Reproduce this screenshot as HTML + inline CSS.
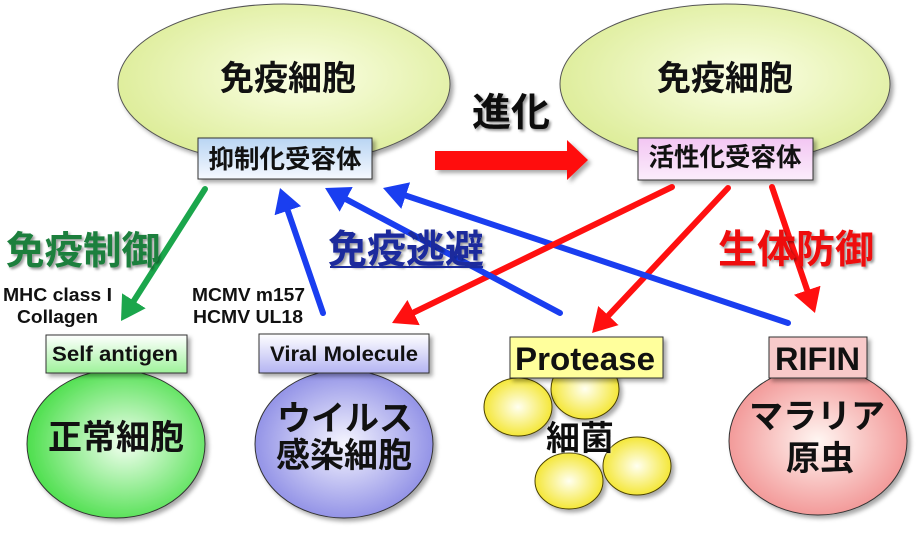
<!DOCTYPE html>
<html>
<head>
<meta charset="utf-8">
<style>
html,body{margin:0;padding:0;background:#fff;}
svg{display:block;}
text{font-family:"Liberation Sans","Noto Sans CJK JP",sans-serif;font-weight:bold;}
</style>
</head>
<body>
<svg width="921" height="534" viewBox="0 0 921 534" xmlns="http://www.w3.org/2000/svg">
<defs>
  <radialGradient id="gTop" cx="0.55" cy="0.45" r="0.6">
    <stop offset="0" stop-color="#fbffe6"/>
    <stop offset="1" stop-color="#dcec96"/>
  </radialGradient>
  <radialGradient id="gGreen" cx="0.55" cy="0.5" r="0.6">
    <stop offset="0" stop-color="#f2fff0"/>
    <stop offset="1" stop-color="#3edc3e"/>
  </radialGradient>
  <radialGradient id="gBlue" cx="0.5" cy="0.5" r="0.6">
    <stop offset="0" stop-color="#f6f6ff"/>
    <stop offset="1" stop-color="#8080e2"/>
  </radialGradient>
  <radialGradient id="gPink" cx="0.5" cy="0.5" r="0.6">
    <stop offset="0" stop-color="#fff6f2"/>
    <stop offset="1" stop-color="#f08888"/>
  </radialGradient>
  <radialGradient id="gYel" cx="0.5" cy="0.5" r="0.6">
    <stop offset="0" stop-color="#fffff0"/>
    <stop offset="1" stop-color="#f2e214"/>
  </radialGradient>
  <linearGradient id="bBlue" x1="0" y1="0" x2="0" y2="1">
    <stop offset="0" stop-color="#b9d5f3"/>
    <stop offset="1" stop-color="#f6f9ff"/>
  </linearGradient>
  <linearGradient id="bPink" x1="0" y1="0" x2="0" y2="1">
    <stop offset="0" stop-color="#f3c6f3"/>
    <stop offset="1" stop-color="#fbedfb"/>
  </linearGradient>
  <linearGradient id="bGreen" x1="0" y1="0" x2="0" y2="1">
    <stop offset="0" stop-color="#ffffff"/>
    <stop offset="1" stop-color="#9ef29a"/>
  </linearGradient>
  <linearGradient id="bLav" x1="0" y1="0" x2="0" y2="1">
    <stop offset="0" stop-color="#ffffff"/>
    <stop offset="1" stop-color="#b4b4f2"/>
  </linearGradient>
  <filter id="sh" x="-10%" y="-10%" width="130%" height="130%">
    <feDropShadow dx="3" dy="3" stdDeviation="2" flood-color="#000" flood-opacity="0.35"/>
  </filter>
  <filter id="tsh" x="-10%" y="-10%" width="130%" height="140%">
    <feDropShadow dx="2" dy="2" stdDeviation="1.2" flood-color="#000" flood-opacity="0.4"/>
  </filter>
  <filter id="glow" x="-10%" y="-10%" width="130%" height="140%">
    <feDropShadow dx="0" dy="0" stdDeviation="1.5" flood-color="#fff" flood-opacity="0.9"/>
  </filter>
  <marker id="mR" markerUnits="userSpaceOnUse" viewBox="0 0 24 28" markerWidth="24" markerHeight="28" refX="16" refY="14" orient="auto">
    <path d="M0,0 L24,14 L0,28 Z" fill="#ff1010"/>
  </marker>
  <marker id="mB" markerUnits="userSpaceOnUse" viewBox="0 0 24 28" markerWidth="24" markerHeight="28" refX="16" refY="14" orient="auto">
    <path d="M0,0 L24,14 L0,28 Z" fill="#1a3ef0"/>
  </marker>
  <marker id="mG" markerUnits="userSpaceOnUse" viewBox="0 0 24 28" markerWidth="24" markerHeight="28" refX="16" refY="14" orient="auto">
    <path d="M0,0 L24,14 L0,28 Z" fill="#1ba64c"/>
  </marker>
</defs>

<!-- top ellipses -->
<ellipse cx="284" cy="84" rx="166" ry="80" fill="url(#gTop)" stroke="#555" stroke-width="1" filter="url(#sh)"/>
<ellipse cx="725" cy="84" rx="165" ry="80" fill="url(#gTop)" stroke="#555" stroke-width="1" filter="url(#sh)"/>
<text x="288" y="90" font-size="34" text-anchor="middle" fill="#111">免疫細胞</text>
<text x="725" y="90" font-size="34" text-anchor="middle" fill="#111">免疫細胞</text>

<!-- receptor boxes -->
<rect x="198" y="138" width="174" height="41" fill="url(#bBlue)" stroke="#333" stroke-width="1" filter="url(#sh)"/>
<text x="285" y="168" font-size="25.5" text-anchor="middle" fill="#111">抑制化受容体</text>
<rect x="638" y="138" width="175" height="42" fill="url(#bPink)" stroke="#333" stroke-width="1" filter="url(#sh)"/>
<text x="725" y="166" font-size="25.5" text-anchor="middle" fill="#111">活性化受容体</text>

<!-- big red arrow -->
<polygon points="435,151 567,151 567,140 588,160 567,180 567,170 435,170" fill="#ff1010" filter="url(#sh)"/>
<text x="511" y="126" font-size="39" text-anchor="middle" fill="#111" filter="url(#tsh)">進化</text>

<!-- bottom shapes -->
<ellipse cx="116" cy="444" rx="89" ry="74" fill="url(#gGreen)" stroke="#333" stroke-width="1" filter="url(#sh)"/>
<ellipse cx="344" cy="444" rx="89" ry="74" fill="url(#gBlue)" stroke="#333" stroke-width="1" filter="url(#sh)"/>
<ellipse cx="818" cy="441" rx="89" ry="74" fill="url(#gPink)" stroke="#333" stroke-width="1" filter="url(#sh)"/>

<ellipse cx="585" cy="389" rx="34" ry="30" fill="url(#gYel)" stroke="#4a4000" stroke-width="1" filter="url(#sh)"/>
<ellipse cx="518" cy="407" rx="34" ry="29" fill="url(#gYel)" stroke="#4a4000" stroke-width="1" filter="url(#sh)"/>
<ellipse cx="569" cy="481" rx="34" ry="28" fill="url(#gYel)" stroke="#4a4000" stroke-width="1" filter="url(#sh)"/>
<ellipse cx="637" cy="466" rx="34" ry="29" fill="url(#gYel)" stroke="#4a4000" stroke-width="1" filter="url(#sh)"/>

<!-- bottom boxes -->
<rect x="46" y="335" width="141" height="38" fill="url(#bGreen)" stroke="#333" stroke-width="1" filter="url(#sh)"/>
<text x="52" y="361" font-size="21" textLength="126" lengthAdjust="spacingAndGlyphs" fill="#111">Self antigen</text>
<rect x="259" y="334" width="170" height="39" fill="url(#bLav)" stroke="#333" stroke-width="1" filter="url(#sh)"/>
<text x="270" y="361" font-size="21" textLength="148" lengthAdjust="spacingAndGlyphs" fill="#111">Viral Molecule</text>
<rect x="510" y="337" width="153" height="41" fill="#ffff9c" stroke="#333" stroke-width="1" filter="url(#sh)"/>
<text x="515" y="370" font-size="32" textLength="140" lengthAdjust="spacingAndGlyphs" fill="#111">Protease</text>
<rect x="769" y="337" width="98" height="41" fill="#f8caca" stroke="#333" stroke-width="1" filter="url(#sh)"/>
<text x="775" y="370" font-size="32" textLength="85" lengthAdjust="spacingAndGlyphs" fill="#111">RIFIN</text>

<!-- circle texts -->
<text x="116" y="449" font-size="34" text-anchor="middle" fill="#111">正常細胞</text>
<text x="345" y="430" font-size="34" text-anchor="middle" fill="#111">ウイルス</text>
<text x="344" y="467" font-size="34" text-anchor="middle" fill="#111">感染細胞</text>
<text x="817" y="428" font-size="34" text-anchor="middle" fill="#111">マラリア</text>
<text x="820" y="470" font-size="34" text-anchor="middle" fill="#111">原虫</text>
<text x="580" y="450" font-size="34" text-anchor="middle" fill="#111" filter="url(#glow)">細菌</text>

<!-- small labels -->
<text x="3" y="301" font-size="18" textLength="109" lengthAdjust="spacingAndGlyphs" fill="#111">MHC class I</text>
<text x="17" y="323" font-size="18" textLength="81" lengthAdjust="spacingAndGlyphs" fill="#111">Collagen</text>
<text x="192" y="301" font-size="18" textLength="113" lengthAdjust="spacingAndGlyphs" fill="#111">MCMV m157</text>
<text x="193" y="323" font-size="18" textLength="110" lengthAdjust="spacingAndGlyphs" fill="#111">HCMV UL18</text>

<!-- connectors -->
<g stroke-width="6" stroke-linecap="round" fill="none">
  <line x1="205" y1="189" x2="125.3" y2="314.3" stroke="#1ba64c" marker-end="url(#mG)"/>
  <line x1="323" y1="313" x2="282.6" y2="195.6" stroke="#1a3ef0" marker-end="url(#mB)"/>
  <line x1="728" y1="188" x2="597.5" y2="327.2" stroke="#ff1010" marker-end="url(#mR)"/>
  <line x1="788" y1="323" x2="390.6" y2="190.5" stroke="#1a3ef0" marker-end="url(#mB)"/>
  <line x1="672" y1="187" x2="399.2" y2="319.5" stroke="#ff1010" marker-end="url(#mR)"/>
  <line x1="560" y1="313" x2="332.1" y2="191.8" stroke="#1a3ef0" marker-end="url(#mB)"/>
  <line x1="772" y1="187" x2="812.4" y2="305.4" stroke="#ff1010" marker-end="url(#mR)"/>
</g>

<!-- category labels (on top of connectors) -->
<text x="83" y="264" font-size="38.5" text-anchor="middle" fill="#1b7f3c" filter="url(#tsh)">免疫制御</text>
<text x="406" y="263" font-size="39" text-anchor="middle" fill="#1a2a9c" filter="url(#tsh)">免疫逃避</text>
<rect x="330" y="266" width="153" height="2" fill="#1a2a9c"/>
<text x="796" y="263" font-size="39" text-anchor="middle" fill="#ee1111" filter="url(#tsh)">生体防御</text>
</svg>
</body>
</html>
